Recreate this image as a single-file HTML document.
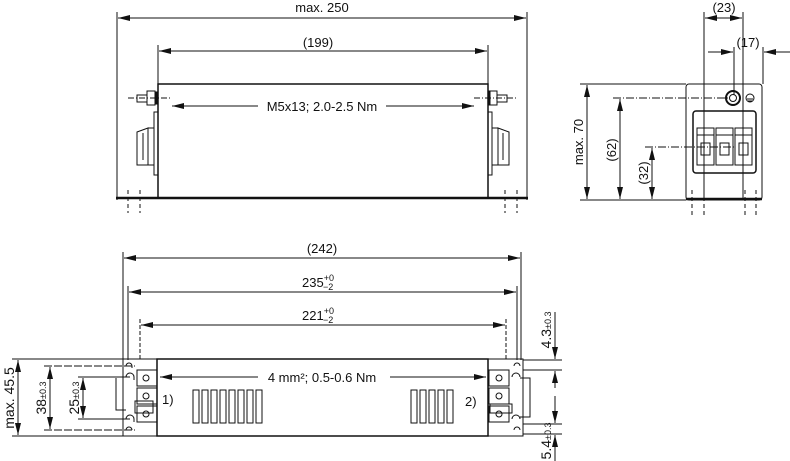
<!DOCTYPE html>
<html><head><meta charset="utf-8"><style>
html,body{margin:0;padding:0;background:#fff;}
svg{display:block;font-family:"Liberation Sans",sans-serif;}
</style></head><body>
<svg width="790" height="461" viewBox="0 0 790 461" xmlns="http://www.w3.org/2000/svg">
<defs>
<marker id="a" viewBox="0 0 12 6" refX="12" refY="3" markerWidth="12" markerHeight="6" orient="auto-start-reverse" markerUnits="userSpaceOnUse"><path d="M0,0 L12,3 L0,6z" fill="#111"/></marker>
</defs>
<g stroke="#111" fill="none" stroke-width="1">
<line x1="117" y1="12" x2="117" y2="200"/><line x1="527" y1="12" x2="527" y2="200"/>
<line x1="118" y1="18" x2="526" y2="18" marker-start="url(#a)" marker-end="url(#a)"/>
<line x1="158" y1="45" x2="158" y2="84"/><line x1="488" y1="45" x2="488" y2="84"/>
<line x1="159" y1="51" x2="487" y2="51" marker-start="url(#a)" marker-end="url(#a)"/>
<rect x="158" y="84" width="330" height="114" stroke-width="1.5"/>
<line x1="116" y1="198" x2="528" y2="198" stroke-width="2.5"/>
<line x1="128" y1="98" x2="172" y2="98" stroke-dasharray="6,2,1,2"/>
<line x1="474" y1="98" x2="518" y2="98" stroke-dasharray="6,2,1,2"/>
<rect x="137" y="95" width="10" height="7"/><rect x="147" y="91" width="8" height="14"/><rect x="155" y="92" width="3" height="12" fill="#111"/>
<rect x="497" y="95" width="10" height="7"/><rect x="489" y="91" width="8" height="14"/><rect x="488" y="92" width="2" height="12" fill="#111"/>
<line x1="172" y1="106" x2="258" y2="106" marker-start="url(#a)"/><line x1="386" y1="106" x2="474" y2="106" marker-end="url(#a)"/>
<rect x="154" y="112" width="4" height="63"/><path d="M148,128 L137,132 L137,165 L148,165 Z"/><line x1="143" y1="133" x2="143" y2="160"/><rect x="148" y="128" width="6" height="37"/>
<rect x="488" y="112" width="4" height="63"/><path d="M498,128 L509,132 L509,165 L498,165 Z"/><line x1="503" y1="133" x2="503" y2="160"/><rect x="492" y="128" width="6" height="37"/>
<g stroke-dasharray="4,3"><line x1="128" y1="190" x2="128" y2="213"/><line x1="140" y1="190" x2="140" y2="213"/><line x1="505" y1="190" x2="505" y2="213"/><line x1="517" y1="190" x2="517" y2="213"/></g>

<rect x="686" y="84" width="76" height="116" rx="3"/>
<line x1="686" y1="199" x2="762" y2="199" stroke-width="2.5"/>
<line x1="704" y1="12" x2="704" y2="200"/><line x1="743" y1="12" x2="743" y2="200"/>
<line x1="705" y1="18" x2="742" y2="18" marker-start="url(#a)" marker-end="url(#a)"/>
<line x1="734" y1="47" x2="734" y2="95"/><line x1="763" y1="47" x2="763" y2="84"/>
<line x1="708" y1="52" x2="733" y2="52" marker-end="url(#a)"/><line x1="790" y1="52" x2="764" y2="52" marker-end="url(#a)"/>
<line x1="580" y1="84" x2="686" y2="84"/><line x1="580" y1="200" x2="686" y2="200"/>
<line x1="613" y1="98" x2="728" y2="98" stroke-dasharray="8,2,1,2"/>
<line x1="645" y1="147" x2="735" y2="147" stroke-dasharray="8,2,1,2"/>
<line x1="587" y1="85" x2="587" y2="199" marker-start="url(#a)" marker-end="url(#a)"/>
<line x1="620" y1="99" x2="620" y2="199" marker-start="url(#a)" marker-end="url(#a)"/>
<line x1="652" y1="148" x2="652" y2="199" marker-start="url(#a)" marker-end="url(#a)"/>
<circle cx="733" cy="98" r="7" stroke-width="2"/><circle cx="733" cy="98" r="3.5"/>
<circle cx="750" cy="98" r="4"/><line x1="747" y1="99" x2="753" y2="99"/><line x1="748" y1="101" x2="752" y2="101"/>
<rect x="693" y="111" width="63" height="62" rx="3" stroke-width="1.5"/>
<rect x="697" y="128" width="17" height="37"/><rect x="716" y="128" width="17" height="37"/><rect x="735" y="128" width="17" height="37"/>
<line x1="697" y1="135" x2="714" y2="135"/><line x1="716" y1="135" x2="733" y2="135"/><line x1="735" y1="135" x2="752" y2="135"/>
<rect x="701" y="143" width="9" height="12"/><rect x="720" y="143" width="9" height="12"/><rect x="739" y="143" width="9" height="12"/>
<g stroke-dasharray="4,3"><line x1="692" y1="190" x2="692" y2="215"/><line x1="704" y1="190" x2="704" y2="215"/><line x1="745" y1="190" x2="745" y2="215"/><line x1="756" y1="190" x2="756" y2="215"/></g>

<line x1="123" y1="252" x2="123" y2="360"/><line x1="521" y1="252" x2="521" y2="360"/>
<line x1="124" y1="258" x2="520" y2="258" marker-start="url(#a)" marker-end="url(#a)"/>
<line x1="128" y1="286" x2="128" y2="360"/><line x1="517" y1="286" x2="517" y2="360"/>
<line x1="129" y1="292" x2="516" y2="292" marker-start="url(#a)" marker-end="url(#a)"/>
<line x1="140" y1="319" x2="140" y2="360" stroke-dasharray="4,2"/><line x1="506" y1="319" x2="506" y2="360" stroke-dasharray="4,2"/>
<line x1="141" y1="325" x2="505" y2="325" marker-start="url(#a)" marker-end="url(#a)"/>
<rect x="157" y="359" width="331" height="77" stroke-width="1.5"/>
<path d="M123,436 L123,359 L157,359 M123,436 L157,436"/>
<path d="M488,359 L523,359 L523,436 L488,436"/>
<line x1="160" y1="377" x2="258" y2="377" marker-start="url(#a)"/><line x1="390" y1="377" x2="486" y2="377" marker-end="url(#a)"/>
<rect x="137" y="370" width="20" height="16"/><circle cx="146" cy="378" r="3"/>
<rect x="137" y="388" width="20" height="16"/><circle cx="146" cy="396" r="3"/>
<rect x="137" y="406" width="20" height="16"/><circle cx="146" cy="414" r="3"/>
<rect x="135" y="401" width="18" height="12"/>
<path d="M126,366 a3,3 0 0 1 6,0 L132,368 M126,377 a4,4 0 0 1 8,0 L134,380 M126,419 a4,4 0 0 1 8,0 L134,422 M126,430 a3,3 0 0 1 6,0"/>
<path d="M116,378 L116,410 L126,410" />
<rect x="489" y="370" width="20" height="16"/><circle cx="499" cy="378" r="3"/>
<rect x="489" y="388" width="20" height="16"/><circle cx="499" cy="396" r="3"/>
<rect x="489" y="406" width="20" height="16"/><circle cx="499" cy="414" r="3"/>
<rect x="490" y="404" width="22" height="9"/>
<path d="M514,366 a3,3 0 0 1 6,0 M512,377 a4,4 0 0 1 8,0 M512,419 a4,4 0 0 1 8,0 M514,430 a3,3 0 0 1 6,0"/>
<path d="M520,378 L530,378 L530,417 L520,417"/>
<g>
<rect x="193" y="390" width="6" height="33"/><rect x="202" y="390" width="6" height="33"/><rect x="211" y="390" width="6" height="33"/><rect x="220" y="390" width="6" height="33"/><rect x="229" y="390" width="6" height="33"/><rect x="238" y="390" width="6" height="33"/><rect x="247" y="390" width="6" height="33"/><rect x="256" y="390" width="6" height="33"/>
<rect x="411" y="390" width="6" height="33"/><rect x="420" y="390" width="6" height="33"/><rect x="429" y="390" width="6" height="33"/><rect x="438" y="390" width="6" height="33"/><rect x="447" y="390" width="6" height="33"/>
</g>
<line x1="12" y1="359" x2="123" y2="359"/><line x1="12" y1="436" x2="123" y2="436"/>
<line x1="44" y1="366" x2="135" y2="366" stroke-dasharray="8,2"/><line x1="44" y1="430" x2="135" y2="430" stroke-dasharray="8,2"/>
<line x1="78" y1="377" x2="130" y2="377"/><line x1="78" y1="419" x2="130" y2="419"/>
<line x1="18" y1="360" x2="18" y2="435" marker-start="url(#a)" marker-end="url(#a)"/>
<line x1="50" y1="367" x2="50" y2="429" marker-start="url(#a)" marker-end="url(#a)"/>
<line x1="83" y1="378" x2="83" y2="418" marker-start="url(#a)" marker-end="url(#a)"/>
<line x1="523" y1="360" x2="562" y2="360"/><line x1="523" y1="370" x2="562" y2="370"/>
<line x1="523" y1="424" x2="562" y2="424"/><line x1="523" y1="434" x2="562" y2="434"/>
<line x1="555" y1="312" x2="555" y2="359" marker-end="url(#a)"/><line x1="555" y1="388" x2="555" y2="371" marker-end="url(#a)"/>
<line x1="555" y1="396" x2="555" y2="423" marker-end="url(#a)"/><line x1="555" y1="461" x2="555" y2="435" marker-end="url(#a)"/>
</g>
<g fill="#111" font-size="13">
<text x="322" y="12" text-anchor="middle">max. 250</text>
<text x="318" y="47" text-anchor="middle">(199)</text>
<text x="322" y="111" text-anchor="middle">M5x13; 2.0-2.5 Nm</text>
<text x="724" y="12" text-anchor="middle">(23)</text>
<text x="748" y="47" text-anchor="middle">(17)</text>
<text transform="translate(583,142) rotate(-90)" text-anchor="middle">max. 70</text>
<text transform="translate(616,150) rotate(-90)" text-anchor="middle">(62)</text>
<text transform="translate(648,173) rotate(-90)" text-anchor="middle">(32)</text>
<text x="322" y="253" text-anchor="middle">(242)</text>
<text x="318" y="287" text-anchor="middle">235<tspan font-size="9" dy="-6">+0</tspan><tspan font-size="9" dx="-11" dy="9">−2</tspan></text>
<text x="318" y="320" text-anchor="middle">221<tspan font-size="9" dy="-6">+0</tspan><tspan font-size="9" dx="-11" dy="9">−2</tspan></text>
<text x="322" y="382" text-anchor="middle">4 mm²; 0.5-0.6 Nm</text>
<text x="162" y="404">1)</text>
<text x="465" y="406">2)</text>
<text transform="translate(14,398) rotate(-90)" text-anchor="middle" font-size="14">max. 45.5</text>
<text transform="translate(46,398) rotate(-90)" text-anchor="middle" font-size="14">38<tspan font-size="9">±0.3</tspan></text>
<text transform="translate(79,398) rotate(-90)" text-anchor="middle" font-size="14">25<tspan font-size="9">±0.3</tspan></text>
<text transform="translate(551,330) rotate(-90)" text-anchor="middle" font-size="14">4.3<tspan font-size="9">±0.3</tspan></text>
<text transform="translate(551,441) rotate(-90)" text-anchor="middle" font-size="14">5.4<tspan font-size="9">±0.3</tspan></text>
</g>
</svg>
</body></html>
